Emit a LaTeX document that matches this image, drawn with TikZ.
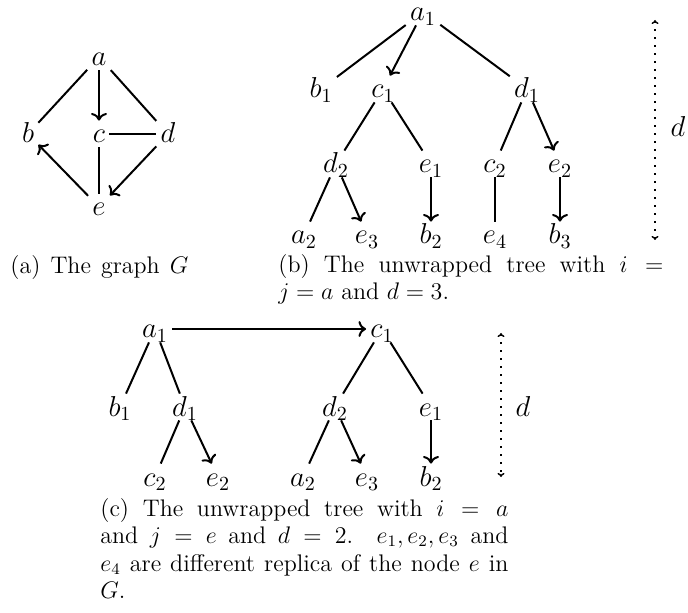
\documentclass[tikz,border=0pt]{standalone}
\usetikzlibrary{arrows.meta}
\begin{document}
\begin{tikzpicture}[x=0.5pt,y=-0.5pt,
  v/.style={font=\fontsize{14.4}{17}\selectfont, text height=10pt, text depth=1pt, inner ysep=1pt, inner xsep=2pt},
  ln/.style={line width=1pt},
  ar/.style={line width=1pt,->},
  dt/.style={line width=0.7pt,dash pattern=on 0.7pt off 3.3pt,{To[length=2pt,width=3.5pt]}-{To[length=2pt,width=3.5pt]}},
  captext/.style={font=\fontsize{12}{13.6}\selectfont, inner sep=0pt, anchor=base west}]
\useasboundingbox (0,0) rectangle (688,613);
% ---------- (a) ----------
\node[v] (ga) at (99,57) {$a$};
\node[v] (gb) at (28,134) {$b$};
\node[v] (gc) at (99,134) {$c$};
\node[v] (gd) at (168,134) {$d$};
\node[v] (ge) at (99,207) {$e$};
\draw[ln] (ga) -- (gb);
\draw[ar] (ga) -- (gc);
\draw[ln] (ga) -- (gd);
\draw[ln] (gc) -- (gd);
\draw[ln] (gc) -- (ge);
\draw[ar] (ge) -- (gb);
\draw[ar] (gd) -- (ge);
\node[captext] (capa) at (10,274) {\makebox[89pt][s]{(a) The graph $G$}};
% ---------- (b) ----------
\node[v] (ba1) at (423,12) {$a_1$};
\node[v] (bb1) at (321,89) {$b_1$};
\node[v] (bc1) at (383,89) {$c_1$};
\node[v] (bd1) at (527,89) {$d_1$};
\node[v] (bd2) at (336,164) {$d_2$};
\node[v] (be1) at (431,164) {$e_1$};
\node[v] (bc2) at (495,164) {$c_2$};
\node[v] (be2) at (560,164) {$e_2$};
\node[v] (ba2) at (304,235) {$a_2$};
\node[v] (be3) at (367,235) {$e_3$};
\node[v] (bb2) at (431,235) {$b_2$};
\node[v] (be4) at (495,235) {$e_4$};
\node[v] (bb3) at (560,235) {$b_3$};
\draw[ln] (ba1) -- (bb1);
\draw[ar] (ba1) -- (bc1);
\draw[ln] (ba1) -- (bd1);
\draw[ln] (bc1) -- (bd2);
\draw[ln] (bc1) -- (be1);
\draw[ln] (bd1) -- (bc2);
\draw[ar] (bd1) -- (be2);
\draw[ln] (bd2) -- (ba2);
\draw[ar] (bd2) -- (be3);
\draw[ar] (be1) -- (bb2);
\draw[ln] (bc2) -- (be4);
\draw[ar] (be2) -- (bb3);
\coordinate (bdt) at (655,20);
\coordinate (bdb) at (655,240);
\draw[dt] (bdt) -- (bdb);
\node[v] (bdl) at (678,128) {$d$};
\node[captext] (capb1) at (278,273) {\makebox[192.5pt][s]{(b) The unwrapped tree with $i =$}};
\node[captext] (capb2) at (278,300) {$j = a$ and $d = 3$.};
% ---------- (c) ----------
\node[v] (ca1) at (155,329) {$a_1$};
\node[v] (cc1) at (382,329) {$c_1$};
\node[v] (cb1) at (120,407) {$b_1$};
\node[v] (cd1) at (185,407) {$d_1$};
\node[v] (cd2) at (335,407) {$d_2$};
\node[v] (ce1) at (431,407) {$e_1$};
\node[v] (cc2) at (155,477) {$c_2$};
\node[v] (ce2) at (218,477) {$e_2$};
\node[v] (ca2) at (303,477) {$a_2$};
\node[v] (ce3) at (367,477) {$e_3$};
\node[v] (cb2) at (431,477) {$b_2$};
\draw[ar] (ca1) -- (cc1);
\draw[ln] (ca1) -- (cb1);
\draw[ln] (ca1) -- (cd1);
\draw[ln] (cc1) -- (cd2);
\draw[ln] (cc1) -- (ce1);
\draw[ln] (cd1) -- (cc2);
\draw[ar] (cd1) -- (ce2);
\draw[ln] (cd2) -- (ca2);
\draw[ar] (cd2) -- (ce3);
\draw[ar] (ce1) -- (cb2);
\coordinate (cdt) at (501,333);
\coordinate (cdb) at (501,477);
\draw[dt] (cdt) -- (cdb);
\node[v] (cdl) at (523,407) {$d$};
\node[captext] (capc1) at (100,516) {\makebox[204pt][s]{(c) The unwrapped tree with $i = a$}};
\node[captext] (capc2) at (100,543) {\makebox[204pt][s]{and $j = e$ and $d = 2$.\ \ $e_1, e_2, e_3$ and}};
\node[captext] (capc3) at (100,571) {\makebox[204pt][s]{$e_4$ are different replica of the node $e$ in}};
\node[captext] (capc4) at (100,598) {$G$.};
\end{tikzpicture}
\end{document}
